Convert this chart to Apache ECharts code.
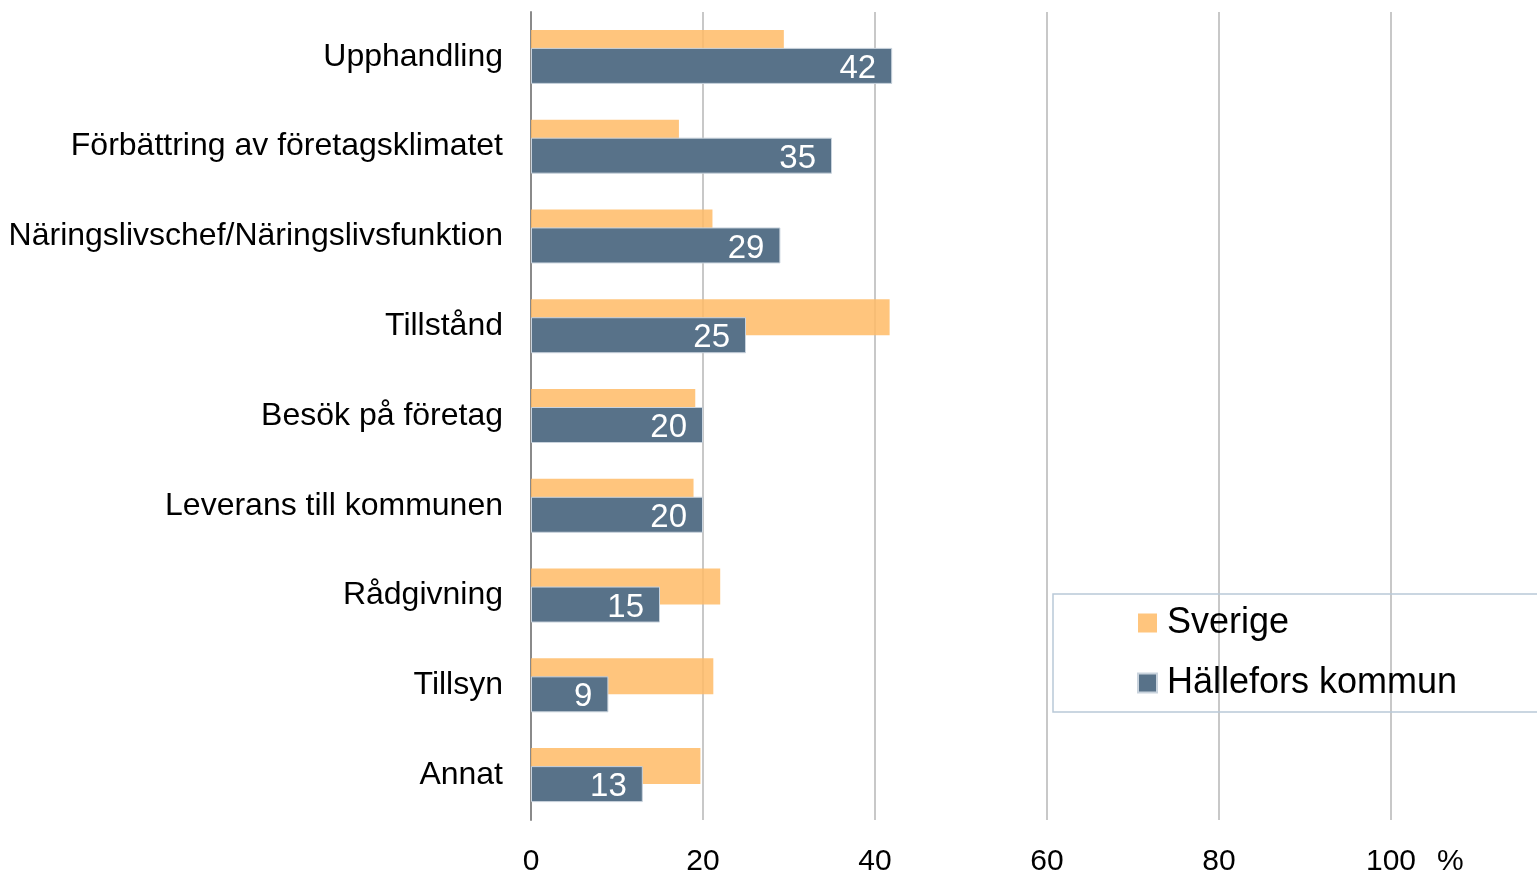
<!DOCTYPE html>
<html>
<head>
<meta charset="utf-8">
<script src="https://cdn.jsdelivr.net/npm/echarts@6/dist/echarts.min.js"></script>
<style>
  html, body { margin: 0; padding: 0; background: #fff; }
  #chart { width: 1537px; height: 877px; }
</style>
</head>
<body>
<div id="chart"></div>
<script>
var categories = [
  'Upphandling',
  'Förbättring av företagsklimatet',
  'Näringslivschef/Näringslivsfunktion',
  'Tillstånd',
  'Besök på företag',
  'Leverans till kommunen',
  'Rådgivning',
  'Tillsyn',
  'Annat'
];
var sverige = [29.4, 17.2, 21.1, 41.7, 19.1, 18.9, 22.0, 21.2, 19.7];
var hallefors = [42, 35, 29, 25, 20, 20, 15, 9, 13];
var xTicks = [0, 20, 40, 60, 80, 100];

var chart = echarts.init(document.getElementById('chart'));
var font = '"Liberation Sans", Arial, sans-serif';

var option = {
  animation: false,
  textStyle: { fontFamily: font },
  grid: { left: 531, right: 146, top: 12, bottom: 55, containLabel: false },
  legend: {
    orient: 'vertical',
    left: 1053,
    top: 594,
    padding: [11, 200, 11, 84],
    itemGap: 24,
    itemWidth: 19,
    itemHeight: 19,
    borderColor: '#b9c9d8',
    borderWidth: 1.5,
    selectedMode: false,
    icon: 'rect',
    textStyle: { fontSize: 36, lineHeight: 34, color: '#000', fontFamily: font, padding: [0, 0, 0, 5] },
    data: ['Sverige', 'Hällefors kommun']
  },
  xAxis: {
    type: 'value',
    min: xTicks[0],
    max: xTicks[xTicks.length - 1],
    interval: xTicks[1] - xTicks[0],
    name: '%',
    nameLocation: 'end',
    nameGap: 46,
    nameTextStyle: { fontSize: 30, color: '#000', verticalAlign: 'top', padding: [27, 0, 0, 0] },
    axisLine: { show: false },
    axisTick: { show: false },
    axisLabel: { fontSize: 30, color: '#000', margin: 27 },
    splitLine: { lineStyle: { color: '#c8c8c8', width: 2 } }
  },
  yAxis: {
    type: 'category',
    inverse: true,
    data: categories,
    axisLine: { lineStyle: { color: '#8a8a8a', width: 2 } },
    axisTick: { length: 8, lineStyle: { color: '#8a8a8a', width: 2 } },
    axisLabel: { fontSize: 32, color: '#000', margin: 28, padding: [4, 0, 0, 0] }
  },
  series: [
    {
      name: 'Sverige',
      type: 'bar',
      data: sverige,
      barWidth: 36,
      barGap: '-50%',
      itemStyle: { color: 'rgba(255,187,102,0.85)' }
    },
    {
      name: 'Hällefors kommun',
      type: 'bar',
      data: hallefors,
      barWidth: 36,
      itemStyle: { color: '#587289', borderColor: '#c9d3dd', borderWidth: 1 },
      label: {
        show: true,
        position: 'insideRight',
        distance: 16,
        offset: [0, 3],
        color: '#fff',
        fontSize: 33
      }
    }
  ]
};

chart.setOption(option);
</script>
</body>
</html>
